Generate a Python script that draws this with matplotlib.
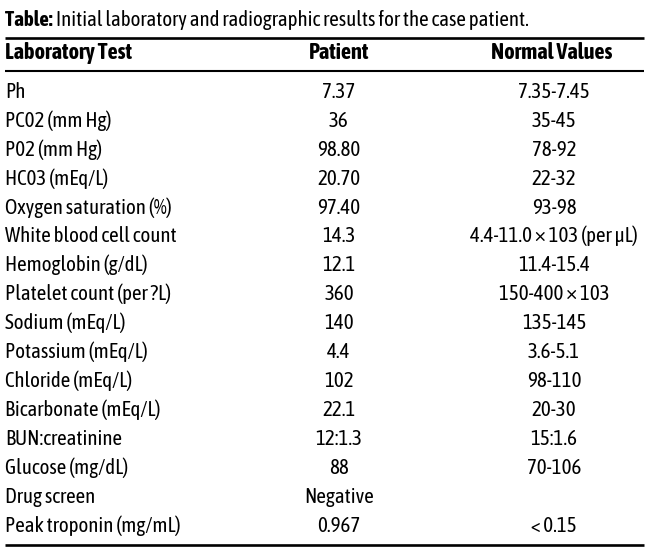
import matplotlib
matplotlib.use("Agg")
import matplotlib.pyplot as plt

plt.rcParams['font.family'] = ['Asap Condensed', 'DejaVu Sans']

title_bold = "Table:"
title_rest = " Initial laboratory and radiographic results for the case patient."
headers = ["Laboratory Test", "Patient", "Normal Values"]
tests = ["Ph", "PC02 (mm Hg)", "P02 (mm Hg)", "HC03 (mEq/L)", "Oxygen saturation (%)",
         "White blood cell count", "Hemoglobin (g/dL)", "Platelet count (per ?L)",
         "Sodium (mEq/L)", "Potassium (mEq/L)", "Chloride (mEq/L)", "Bicarbonate (mEq/L)",
         "BUN:creatinine", "Glucose (mg/dL)", "Drug screen", "Peak troponin (mg/mL)"]
patient = ["7.37", "36", "98.80", "20.70", "97.40", "14.3", "12.1", "360", "140", "4.4",
           "102", "22.1", "12:1.3", "88", "Negative", "0.967"]
normal = ["7.35-7.45", "35-45", "78-92", "22-32", "93-98", "4.4-11.0 \u00d7 103 (per \u03bcL)",
          "11.4-15.4", "150-400 \u00d7 103", "135-145", "3.6-5.1", "98-110", "20-30",
          "15:1.6", "70-106", "", "< 0.15"]

fig = plt.figure(figsize=(6.5, 5.57), dpi=100)
ax = fig.add_axes([0, 0, 1, 1])
ax.set_xlim(0, 650)
ax.set_ylim(557, 0)
ax.axis('off')

fs = 15
fs_head = 16
x_cols = [5, 339, 554]

# title: bold "Table:" then the rest
t = ax.text(5, 26, title_bold, fontsize=fs, fontweight='bold', va='baseline')
fig.canvas.draw()
bb = t.get_window_extent().transformed(ax.transData.inverted())
ax.text(bb.x1, 26, title_rest, fontsize=fs, va='baseline')

# rules
ax.plot([5, 644], [38, 38], color='black', lw=1.9, solid_capstyle='butt')
ax.plot([5, 644], [71, 71], color='black', lw=1.5, solid_capstyle='butt')
ax.plot([5, 644], [545, 545], color='black', lw=1.9, solid_capstyle='butt')

# header
ax.text(x_cols[0], 59, headers[0], fontsize=fs_head, fontweight='bold', va='baseline')
ax.text(x_cols[1], 59, headers[1], fontsize=fs_head, fontweight='bold', va='baseline', ha='center')
ax.text(x_cols[2] - 2, 59, headers[2], fontsize=fs_head, fontweight='bold', va='baseline', ha='center')

for i in range(len(tests)):
    y = 98 + 28.9 * i
    ax.text(x_cols[0], y, tests[i], fontsize=fs, va='baseline')
    ax.text(x_cols[1], y, patient[i], fontsize=fs, va='baseline', ha='center')
    ax.text(x_cols[2], y, normal[i], fontsize=fs, va='baseline', ha='center')

fig.savefig("out.png", dpi=100)
